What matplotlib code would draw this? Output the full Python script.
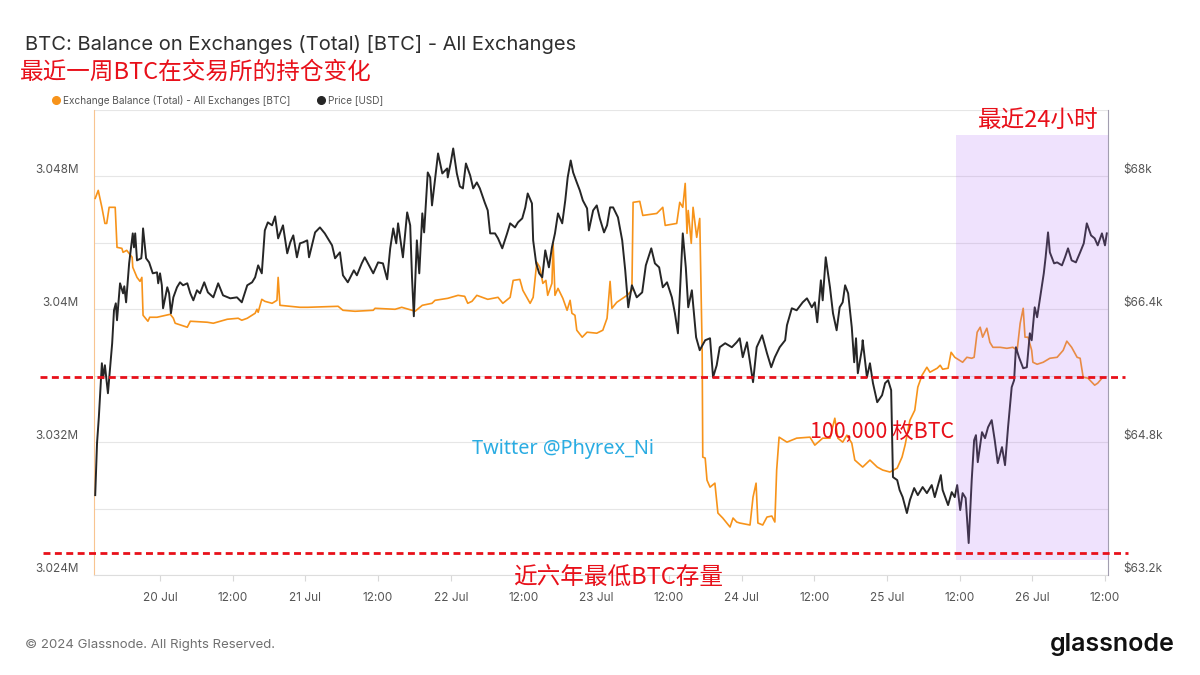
import numpy as np
import matplotlib
matplotlib.use('Agg')
import matplotlib.pyplot as plt
import matplotlib.transforms as mtransforms
from matplotlib.ticker import FuncFormatter, FixedLocator, MultipleLocator
from matplotlib.lines import Line2D

plt.rcParams['font.family'] = ['Inter', 'DejaVu Sans']
CJK = ['Noto Sans CJK SC', 'DejaVu Sans']

# hours since 20 Jul 00:00
bal_hours = [-10.7, -10.2, -9.6, -9.1, -8.8, -8.4, -7.8, -7.4, -7.1, -6.3,
             -6.1, -5.5, -4.6, -4.5, -3.8, -3.3, -3.0, -2.8, -2.0, -1.7,
             -0.5, 1.7, 2.2, 2.5, 4.5, 5.0, 7.8, 8.8, 11.1, 12.9,
             13.5, 14.4, 15.7, 16.0, 16.2, 16.8, 17.3, 18.5, 19.3, 19.5,
             19.8, 21.5, 23.1, 24.4, 29.4, 30.2, 32.2, 35.2, 35.5, 38.8,
             39.9, 41.6, 42.1, 43.3, 44.9, 45.4, 47.5, 49.2, 50.3, 50.8,
             51.5, 52.3, 53.2, 54.1, 55.8, 56.6, 57.8, 58.3, 59.4, 59.9,
             61.1, 61.6, 62.2, 62.7, 63.2, 63.7, 64.0, 64.7, 64.9, 65.2,
             65.7, 66.5, 67.2, 67.7, 68.0, 68.5, 68.8, 69.7, 70.5, 72.1,
             73.1, 73.8, 74.3, 74.6, 75.4, 77.1, 77.9, 78.1, 79.2, 79.7,
             82.0, 83.0, 83.4, 85.3, 85.8, 86.3, 86.7, 87.0, 87.2, 87.7,
             88.0, 88.6, 89.1, 89.5, 89.6, 90.0, 90.3, 90.8, 91.6, 92.1,
             92.9, 94.1, 94.6, 95.2, 95.7, 97.4, 97.9, 98.4, 98.7, 99.5,
             100.2, 101.0, 101.5, 101.8, 102.2, 103.5, 105.1, 107.3, 108.1, 109.4,
             110.6, 111.4, 111.9, 112.7, 113.4, 114.2, 114.7, 116.0, 117.2, 118.4,
             119.3, 120.5, 121.7, 122.5, 123.0, 123.8, 124.6, 125.1, 125.8, 126.6,
             127.1, 128.3, 128.8, 129.2, 130.1, 130.6, 131.2, 132.5, 133.2, 134.0,
             134.4, 134.9, 135.4, 135.8, 136.5, 137.0, 137.5, 138.7, 139.8, 140.8,
             141.5, 142.0, 142.5, 142.8, 143.3, 143.9, 144.1, 144.8, 145.8, 146.9,
             148.1, 149.1, 149.7, 150.5, 151.4, 151.9, 152.4, 153.2, 154.3, 154.8, 155.5]

# exchange balance, thousand BTC
bal_k = [3046.68, 3047.16, 3046.14, 3045.17, 3045.17, 3046.14, 3046.14, 3046.14, 3043.73, 3043.67,
         3043.43, 3043.55, 3043.13, 3042.53, 3041.92, 3041.68, 3041.92, 3039.64, 3039.28, 3039.52,
         3039.52, 3039.70, 3039.46, 3039.16, 3038.92, 3039.28, 3039.22, 3039.16, 3039.40, 3039.46,
         3039.34, 3039.46, 3039.76, 3040.00, 3039.82, 3040.60, 3040.48, 3040.36, 3040.54, 3041.92,
         3040.24, 3040.18, 3040.12, 3040.12, 3040.18, 3039.94, 3039.88, 3039.94, 3040.06, 3040.00,
         3040.12, 3039.94, 3039.88, 3040.24, 3040.36, 3040.54, 3040.66, 3040.84, 3040.78, 3040.36,
         3040.48, 3040.84, 3040.72, 3040.60, 3040.72, 3040.36, 3040.72, 3041.74, 3041.80, 3041.14,
         3040.36, 3040.72, 3042.83, 3042.53, 3041.56, 3041.74, 3040.84, 3041.56, 3043.97, 3040.84,
         3041.26, 3040.66, 3039.94, 3040.54, 3039.76, 3039.64, 3038.74, 3038.32, 3038.62, 3038.56,
         3038.74, 3039.46, 3041.68, 3040.06, 3040.42, 3040.84, 3041.14, 3046.44, 3046.50, 3045.65,
         3045.77, 3046.14, 3045.05, 3045.17, 3046.44, 3046.14, 3047.58, 3044.57, 3045.95, 3043.97,
         3046.14, 3044.33, 3045.47, 3037.53, 3031.10, 3031.04, 3029.71, 3029.29, 3029.53, 3027.73,
         3027.43, 3026.89, 3027.43, 3027.19, 3027.13, 3027.01, 3028.69, 3029.53, 3027.13, 3027.01,
         3027.49, 3027.55, 3027.19, 3030.32, 3032.30, 3032.00, 3032.24, 3032.30, 3031.82, 3032.24,
         3032.24, 3033.44, 3032.24, 3032.00, 3032.42, 3031.94, 3030.92, 3030.50, 3030.92, 3030.50,
         3030.32, 3030.20, 3030.44, 3031.10, 3031.82, 3033.32, 3033.92, 3035.31, 3036.03, 3036.51,
         3036.21, 3036.45, 3036.63, 3036.39, 3036.45, 3037.41, 3037.11, 3036.81, 3037.11, 3037.05,
         3037.11, 3038.62, 3038.92, 3038.32, 3038.86, 3038.01, 3037.71, 3037.71, 3037.65, 3037.71,
         3037.53, 3039.16, 3040.06, 3038.32, 3038.32, 3037.53, 3036.81, 3036.69, 3036.81, 3037.05,
         3037.11, 3037.53, 3038.08, 3037.71, 3037.11, 3037.05, 3035.91, 3035.85, 3035.43, 3035.55, 3035.85]

price_hours = [-10.7, -10.4, -10.1, -9.6, -9.4, -9.1, -8.6, -7.9, -7.6, -7.3,
               -7.1, -6.6, -6.1, -5.9, -5.6, -5.1, -4.5, -4.3, -4.1, -3.8,
               -3.1, -3.0, -2.8, -2.3, -1.8, -1.2, -0.5, -0.3, 0.0, 0.3,
               0.5, 1.2, 1.5, 1.8, 2.2, 2.8, 3.3, 3.8, 4.5, 5.0,
               5.5, 6.1, 6.6, 7.3, 7.9, 8.8, 9.6, 10.4, 11.6, 12.7,
               13.5, 14.4, 15.2, 15.7, 16.2, 16.8, 17.3, 17.8, 18.5, 19.0,
               19.5, 20.3, 21.0, 21.5, 22.0, 22.6, 23.1, 23.6, 24.3, 24.6,
               25.6, 26.4, 27.2, 28.4, 28.9, 29.7, 30.2, 31.0, 32.0, 32.5,
               33.3, 33.8, 35.2, 36.0, 36.8, 37.5, 38.0, 38.5, 39.0, 39.3,
               40.1, 40.8, 41.3, 41.6, 41.9, 42.4, 42.8, 43.3, 43.6, 44.2,
               44.6, 44.9, 45.9, 46.6, 47.4, 47.5, 48.0, 48.4, 49.0, 49.5,
               50.0, 50.5, 51.2, 51.7, 52.3, 52.8, 53.6, 54.1, 54.5, 55.3,
               55.8, 56.5, 57.3, 57.8, 58.6, 59.1, 59.8, 60.3, 60.7,
               61.4, 61.6, 62.1, 62.6, 63.1, 63.6, 64.2, 64.7, 65.2, 65.7,
               66.4, 66.9, 67.3, 67.8, 68.2, 68.8, 69.3, 69.8, 70.5, 70.8,
               71.5, 72.1, 72.6, 73.3, 73.8, 74.3, 74.8, 75.6, 76.3, 76.8,
               77.3, 77.9, 78.7, 79.6, 80.2, 81.1, 81.7, 82.4, 83.0, 83.7,
               84.5, 85.0, 85.5, 86.3, 86.8, 87.2, 87.8, 88.5, 89.1, 90.0,
               90.8, 91.3, 91.9, 92.4, 93.3, 94.4, 95.2, 95.7, 96.2, 96.9,
               97.9, 98.5, 99.4, 100.2, 100.9, 101.5, 102.3, 103.2, 103.5, 104.3,
               105.1, 106.1, 106.8, 107.6, 108.1, 108.5, 109.1, 109.4, 109.9, 110.6,
               111.1, 111.7, 112.2, 112.7, 113.1, 113.6, 114.2, 114.6, 114.9, 115.2,
               115.9, 116.0, 116.7, 117.2, 117.7, 118.4, 119.2, 119.7, 120.2, 120.7,
               121.0, 121.7, 122.1, 122.6, 123.3, 123.8, 124.5, 125.1, 125.9, 126.6,
               127.4, 127.9, 128.9, 129.2, 130.1, 130.7, 131.2, 131.6, 132.1, 132.5,
               133.0, 133.5, 134.0, 134.4, 134.7, 135.0, 135.7, 136.2, 136.7, 137.3,
               137.8, 138.3, 139.0, 139.5, 140.0, 140.6, 141.0, 141.3, 141.8, 142.5,
               143.1, 143.6, 143.9, 144.4, 144.8, 145.3, 145.9, 146.2, 146.6, 146.9,
               147.6, 148.1, 148.9, 149.4, 149.9, 150.5, 151.2, 151.9, 152.5, 153.0,
               153.7, 154.3, 154.8, 155.5, 156.0, 156.3]

# BTC price, USD
price_usd = [64162, 64788, 65101, 65750, 65570, 65726, 65389, 65991, 66388, 66472,
             66268, 66713, 66592, 66677, 66484, 66953, 67314, 67146, 67314, 66989,
             67014, 67086, 67374, 67014, 66965, 66833, 66845, 66713, 66833, 66689,
             66412, 66665, 66592, 66352, 66544, 66665, 66725, 66689, 66713, 66592,
             66508, 66629, 66592, 66725, 66604, 66544, 66713, 66568, 66532, 66544,
             66484, 66689, 66725, 66785, 66929, 66833, 67350, 67447, 67411, 67519,
             67254, 67411, 67074, 67206, 67290, 67026, 67194, 67206, 67230, 67026,
             67326, 67386, 67314, 67170, 67014, 67086, 66809, 66725, 66869, 66809,
             66953, 67026, 66833, 66965, 66953, 66761, 67134, 67374, 67194, 67435,
             67026, 67567, 67411, 66785, 66316, 67230, 66833, 67555, 67326, 68048,
             67988, 67651, 68277, 68036, 68096, 67988, 68168, 68337, 68036, 67880,
             67856, 68156, 68012, 67856, 67928, 67856, 67687, 67591, 67314, 67314,
             67254, 67134, 67314, 67435, 67386, 67447, 67495, 67627, 67795,
             67675, 67230, 66953, 66833, 66785, 67110, 66905, 67146, 67314, 67555,
             67435, 67711, 67988, 68192, 68048, 67928, 67832, 67711, 67615, 67350,
             67591, 67651, 67495, 67326, 67411, 67627, 67627, 67507, 67230, 66869,
             66424, 66689, 66544, 66604, 66929, 67134, 66953, 66905, 66665, 66725,
             66544, 66352, 66111, 67314, 66905, 66424, 66629, 66063, 65907, 66027,
             66051, 65582, 65726, 65943, 65991, 65943, 66003, 66051, 65823, 66003,
             65522, 65943, 66087, 65871, 65702, 65823, 65943, 66027, 66208, 66412,
             66388, 66484, 66532, 66424, 66484, 66244, 66749, 66508, 67026, 66665,
             66352, 66147, 66424, 66484, 66689, 66592, 66183, 65762, 66051, 65630,
             65931, 66027, 65582, 65750, 65510, 65281, 65365, 65510, 65546, 65426,
             64379, 64343, 64223, 64138, 63946, 64102, 64247, 64162, 64259, 64186,
             64283, 64138, 64403, 64223, 64042, 64198, 64138, 64283, 63982, 64186,
             64126, 63585, 64343, 64824, 64884, 64559, 64920, 64848, 64980, 65065,
             64824, 64547, 64740, 64523, 64980, 65462, 65546, 65943, 65823, 65690,
             65702, 66111, 66027, 66424, 66304, 66544, 66833, 67026, 67326, 67086,
             66953, 66965, 66929, 67026, 67134, 66989, 66965, 67086, 67194, 67435,
             67290, 67254, 67170, 67314, 67170, 67314]

x_ticks = [0, 12, 24, 36, 48, 60, 72, 84, 96, 108, 120, 132, 144, 156]
x_labels = ['20 Jul', '12:00', '21 Jul', '12:00', '22 Jul', '12:00', '23 Jul',
            '12:00', '24 Jul', '12:00', '25 Jul', '12:00', '26 Jul', '12:00']
bal_ticks = [3.024e6, 3.032e6, 3.040e6, 3.048e6]
price_ticks = [63200, 64800, 66400, 68000]

x_start, x_end = -10.9, 156.5
highlight_start = 131.4      # "last 24h" box
ref_level = 3035900          # red dotted line
low_level = 3025300          # six-year low line

orange = '#f7931a'
red = '#e8101a'

fig = plt.figure(figsize=(12, 6.75), dpi=100)
ax = fig.add_axes([94 / 1200, 1 - 575 / 675, 1014 / 1200, 465 / 675])

balance = np.array(bal_k) * 1000
ax.plot(bal_hours, balance, color=orange, lw=1.2, zorder=3)
ax.set_xlim(x_start, x_end)
ax.set_ylim(3.024e6, 3.052e6)
ax.yaxis.set_major_locator(FixedLocator(bal_ticks))
ax.yaxis.set_minor_locator(MultipleLocator(4000))
ax.yaxis.set_major_formatter(FuncFormatter(lambda v, p: f'{v / 1e6:g}M'))
ax.grid(which='both', axis='y', color='#e6e6e6', lw=0.8)
ax.tick_params(axis='y', which='both', length=0, pad=11, labelsize=8.5, labelcolor='#555555')
ax.set_xticks(x_ticks)
ax.set_xticklabels(x_labels)
ax.tick_params(axis='x', length=4, color='#d8d8d8', pad=8, labelsize=8.5, labelcolor='#555555')
for s in ['top', 'right']:
    ax.spines[s].set_visible(False)
ax.spines['left'].set_color('#f8c490')
ax.spines['bottom'].set_color('#dddddd')

ax2 = ax.twinx()
ax2.plot(price_hours, price_usd, color='#262626', lw=1.4, zorder=3)
ax2.set_ylim(63200, 68800)
ax2.yaxis.set_major_locator(FixedLocator(price_ticks))
ax2.yaxis.set_major_formatter(FuncFormatter(lambda v, p: f'${v / 1000:g}k'))
ax2.tick_params(axis='y', length=0, pad=11, labelsize=8.5, labelcolor='#555555')
for s in ['top', 'left', 'bottom']:
    ax2.spines[s].set_visible(False)
ax2.spines['right'].set_color('#a29eb0')

for lab in ax.get_yticklabels() + ax2.get_yticklabels():
    lab.set_verticalalignment('bottom')

# last 24h shading
ax2.axvspan(highlight_start, x_end, ymin=0.032, ymax=0.946,
            color='#b06ef5', alpha=0.2, lw=0, zorder=5)

# red dotted reference lines
trans = mtransforms.blended_transform_factory(ax2.transAxes, ax.transData)
ax2.plot([-0.053, 1.017], [ref_level, ref_level], transform=trans, clip_on=False,
         color=red, lw=2, ls=(0, (2.5, 1.6)), zorder=6)
ax2.plot([-0.050, 1.020], [low_level, low_level], transform=trans, clip_on=False,
         color=red, lw=2, ls=(0, (2.5, 1.6)), zorder=6)

# titles and notes
fig.text(25 / 1200, 1 - 44 / 675, 'BTC: Balance on Exchanges (Total) [BTC] - All Exchanges',
         fontsize=14.5, color='#2f2f2f', va='center')
fig.text(20 / 1200, 1 - 72 / 675, '最近一周BTC在交易所的持仓变化', family=CJK,
         fontsize=17, color=red, va='center')
fig.text(978 / 1200, 1 - 120 / 675, '最近24小时', family=CJK, fontsize=17, color=red, va='center')
fig.text(810 / 1200, 1 - 432 / 675, '100,000 枚BTC', family=CJK, fontsize=15.5, color=red, va='center')
fig.text(513 / 1200, 1 - 578 / 675, '近六年最低BTC存量', family=CJK, fontsize=17, color=red, va='center')
fig.text(472 / 1200, 1 - 449 / 675, 'Twitter @Phyrex_Ni', family=['Noto Sans', 'DejaVu Sans'],
         fontsize=14.3, color='#2aace2', va='center')

handles = [Line2D([], [], ls='', marker='o', ms=5.5, color=orange),
           Line2D([], [], ls='', marker='o', ms=5.5, color='#262626')]
fig.legend(handles, ['Exchange Balance (Total) - All Exchanges [BTC]', 'Price [USD]'],
           loc='center left', bbox_to_anchor=(47 / 1200, 1 - 100 / 675), ncol=2,
           frameon=False, fontsize=7.2, handletextpad=0.2, columnspacing=2.6,
           handlelength=1.0, labelcolor='#555555', borderaxespad=0)

fig.text(25 / 1200, 1 - 645 / 675, '© 2024 Glassnode. All Rights Reserved.',
         fontsize=9.5, color='#707070', va='center')
fig.text(1175 / 1200, 1 - 644 / 675, 'glassnode', fontsize=18, fontweight='semibold',
         color='#111111', va='center', ha='right')

fig.savefig('out.png', dpi=100)
